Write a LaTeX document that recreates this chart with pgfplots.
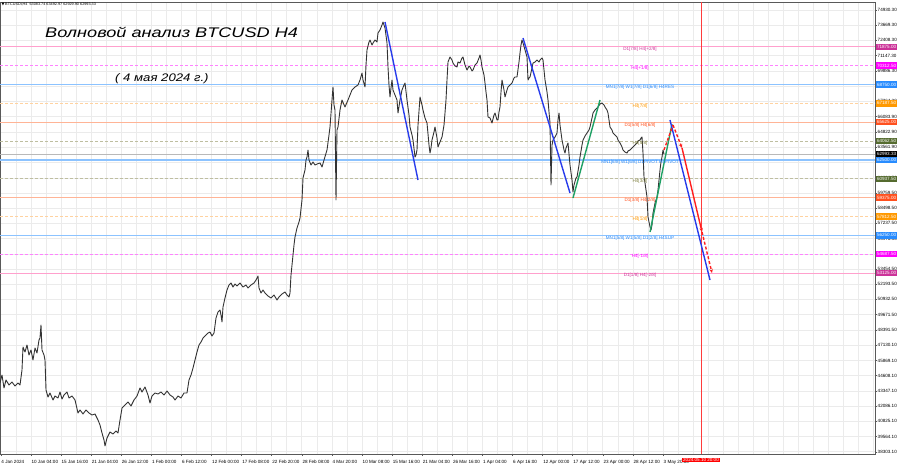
\documentclass[border=0pt]{standalone}
\usepackage{pgfplots}
\pgfplotsset{compat=1.18}
\usepackage{fontspec}
\setmainfont{Liberation Sans}
\newfontfamily\dejavu{DejaVu Sans}
\usetikzlibrary{arrows.meta}
\definecolor{pinkL}{RGB}{255,160,205}
\definecolor{pinkB}{RGB}{204,51,153}
\definecolor{magL}{RGB}{255,130,255}
\definecolor{magB}{RGB}{255,0,255}
\definecolor{blueL}{RGB}{140,195,255}
\definecolor{blueB}{RGB}{40,140,255}
\definecolor{oraL}{RGB}{255,210,160}
\definecolor{oraB}{RGB}{255,153,0}
\definecolor{salL}{RGB}{255,180,150}
\definecolor{salB}{RGB}{255,80,30}
\definecolor{oliL}{RGB}{190,190,160}
\definecolor{oliB}{RGB}{85,107,47}
\definecolor{oliT}{RGB}{128,128,64}
\definecolor{trBlue}{RGB}{40,60,235}
\definecolor{trGreen}{RGB}{30,160,100}
\definecolor{trRed}{RGB}{255,30,30}
\definecolor{vRed}{RGB}{255,60,60}
\newcommand{\tinyf}{\fontsize{4.6}{5}\selectfont}
\begin{document}
\begin{tikzpicture}
\path[use as bounding box] (0,0) rectangle (900bp,468bp);
\begin{axis}[
  at={(0bp,14bp)}, anchor=south west,
  scale only axis, width=875bp, height=452bp,
  xmin=0, xmax=875, ymin=38114, ymax=75594,
  scaled x ticks=false, scaled y ticks=false,
  axis line style={gray!70!black, line width=0.6bp},
  clip=true,
  xtick={0.7,30.8,60.9,91,121.1,151.2,181.3,211.4,241.5,271.6,301.7,331.8,361.9,392,422.1,452.2,482.3,512.4,542.5,572.6,602.7,632.8,662.9},
  xticklabels={4 Jan 2024,10 Jan 04:00,15 Jan 16:00,21 Jan 04:00,26 Jan 12:00,1 Feb 00:00,6 Feb 12:00,12 Feb 00:00,17 Feb 08:00,22 Feb 20:00,28 Feb 08:00,4 Mar 20:00,10 Mar 08:00,15 Mar 16:00,21 Mar 04:00,26 Mar 16:00,1 Apr 04:00,6 Apr 16:00,12 Apr 00:00,17 Apr 12:00,23 Apr 00:00,28 Apr 12:00,3 May 20:00},
  minor xtick={15.75,45.85,75.95,106.05,136.15,166.25,196.35,226.45,256.55,286.65,316.75,346.85,376.95,407.05,437.15,467.25,497.35,527.45,557.55,587.65,617.75,647.85,677.95,693,708.05,723.1,738.15,753.2,768.25,783.3,798.35,813.4,828.45,843.5,858.55,873.6},
  xmajorgrids, xminorgrids, ymajorgrids,
  grid style={gray!16, line width=0.5bp},
  minor grid style={gray!16, line width=0.5bp},
  xticklabel style={font=\tinyf, anchor=north west, inner sep=0pt, xshift=0.6bp, yshift=-4bp},
  ytick={38303.1,39564.1,40825.1,42086.1,43347.1,44608.1,45869.1,47130.1,48391.5,49671.5,50932.5,52193.5,53454.5,54715.5,55976.5,57237.5,58498.5,59759.5,61020.5,62300.9,63561.9,64822.9,66083.9,67364.3,68625.3,69886.3,71147.3,72408.3,73669.3,74930.3},
  yticklabels={38303.10,39564.10,40825.10,42086.10,43347.10,44608.10,45869.10,47130.10,48391.50,49671.50,50932.50,52193.50,53454.50,54715.50,55976.50,57237.50,58498.50,59759.50,61020.50,62300.90,63561.90,64822.90,66083.90,67364.30,68625.30,69886.30,71147.30,72408.30,73669.30,74930.30},
  yticklabel pos=right,
  yticklabel style={font=\tinyf, anchor=west, inner sep=0pt, xshift=0.5bp},
  tick align=outside, major tick length=2bp, minor tick length=0pt,
  tick style={gray!70!black, line width=0.4bp},
  xtick pos=bottom, ytick pos=right,
]
% levels
\addplot[pinkL, line width=0.8bp] coordinates {(0,71875) (875,71875)};
\addplot[magL, line width=0.8bp, dash pattern=on 3bp off 2bp] coordinates {(0,70312.5) (875,70312.5)};
\addplot[blueL, line width=1.5bp] coordinates {(0,68750) (875,68750)};
\addplot[oraL, line width=0.8bp, dash pattern=on 3bp off 2bp] coordinates {(0,67187.5) (875,67187.5)};
\addplot[salL, line width=0.9bp] coordinates {(0,65625) (875,65625)};
\addplot[oliL, line width=0.8bp, dash pattern=on 3bp off 2bp] coordinates {(0,64062.5) (875,64062.5)};
\addplot[gray!55, line width=0.6bp] coordinates {(0,62993.33) (875,62993.33)};
\addplot[blueL, line width=1.5bp] coordinates {(0,62500) (875,62500)};
\addplot[oliL, line width=0.8bp, dash pattern=on 3bp off 2bp] coordinates {(0,60937.5) (875,60937.5)};
\addplot[salL, line width=0.9bp] coordinates {(0,59375) (875,59375)};
\addplot[oraL, line width=0.8bp, dash pattern=on 3bp off 2bp] coordinates {(0,57812.5) (875,57812.5)};
\addplot[blueL, line width=1.5bp] coordinates {(0,56250) (875,56250)};
\addplot[magL, line width=0.8bp, dash pattern=on 3bp off 2bp] coordinates {(0,54687.5) (875,54687.5)};
\addplot[pinkL, line width=0.8bp] coordinates {(0,53125) (875,53125)};
% vertical red line (time marker)
\draw[vRed, line width=1bp] (axis cs:701,38114) -- (axis cs:701,75594);
% price
\addplot[black!80, line width=0.9bp, line join=round, mark=none] coordinates {
(0,44001)(2,44664)(4,43587)(6,44249)(9,43835)(12,44083)(15,43752)(18,44001)(20,43835)(22,45078)
(23,46986)(25,46572)(27,47152)(29,46323)(31,46737)(33,45908)(35,46903)(37,46489)(39,47567)(40,47732)
(41,48810)(42,46737)(44,46323)(45,45908)(46,43421)(48,42840)(50,43172)(53,42592)(55,42923)(58,42757)
(60,43255)(62,42674)(64,43006)(67,43255)(69,42757)(72,42923)(75,42592)(78,41514)(80,41763)(83,41431)
(86,41763)(89,41514)(92,41348)(95,41431)(98,40933)(100,40519)(102,39856)(104,39275)(105,38778)(107,39441)
(110,39938)(113,39773)(116,40021)(118,39856)(120,40933)(122,41928)(125,42177)(128,42426)(131,42094)(134,42592)
(137,42923)(140,43587)(142,43255)(145,43669)(148,43006)(150,42343)(152,42923)(155,43172)(158,43089)(161,43255)
(164,43006)(167,43338)(170,43006)(173,42840)(175,42592)(178,42923)(181,42757)(184,43172)(187,43172)(189,44249)
(191,44664)(193,45245)(195,45908)(197,46572)(199,47152)(201,47401)(203,47732)(206,47981)(208,48146)(210,48229)
(212,47898)(214,48146)(216,49391)(218,49888)(220,50054)(221,49640)(222,49059)(223,50303)(225,51049)(227,51713)
(229,52127)(231,52293)(233,51961)(235,52210)(237,52044)(240,52293)(243,51961)(246,52127)(248,51879)(251,52127)
(254,52293)(256,52542)(258,52873)(259,51879)(261,51464)(263,51713)(265,51464)(268,51215)(271,51049)(274,51298)
(277,50883)(279,51132)(282,51381)(285,51547)(287,51298)(289,51132)(290,51464)(291,52956)(292,53785)(294,55444)
(295,56107)(297,56853)(299,57351)(300,57683)(302,59176)(303,60999)(305,61663)(306,62492)(307,62741)(308,63322)
(309,62492)(311,62077)(313,62326)(315,62077)(317,62160)(320,62243)(322,61912)(324,62492)(327,63322)(329,64565)
(330,65229)(332,67468)(333,68545)(334,67053)(335,66638)(336,59176)(337,64980)(338,65229)(340,66638)(342,67468)
(345,66887)(348,67468)(350,67882)(352,68297)(355,68545)(358,68711)(360,69126)(362,69706)(363,69126)(365,68545)
(366,70370)(367,71613)(369,72277)(370,72443)(372,72028)(373,72194)(375,72443)(377,72277)(378,73023)(380,73272)
(382,73686)(383,73935)(385,73438)(387,72194)(388,70204)(389,68711)(390,67717)(391,68462)(392,69126)(393,68297)
(395,67882)(397,67468)(398,66389)(400,67468)(402,68297)(404,68711)(405,68877)(407,67468)(409,66224)(410,65229)
(412,64565)(413,64151)(415,62741)(416,62907)(417,63322)(418,65394)(420,67717)(422,67053)(423,66638)(425,65975)
(427,65560)(429,63736)(430,63072)(431,63488)(432,64151)(434,64814)(435,65229)(437,64317)(438,63571)(440,63985)
(442,64399)(444,65394)(445,66389)(446,67468)(447,69126)(448,70618)(450,71033)(452,70784)(453,70535)(455,70287)
(457,70204)(458,70618)(460,70535)(462,70950)(463,71033)(465,70370)(467,69955)(469,70287)(470,70204)(472,69872)
(473,69955)(475,70370)(477,70535)(479,70950)(480,71199)(481,70784)(482,70204)(484,69540)(485,68877)(486,68131)
(487,67468)(488,66058)(490,65975)(492,65560)(494,66224)(495,66389)(497,65809)(498,65809)(499,66472)(500,66887)
(501,68131)(502,69126)(504,68297)(505,67717)(507,68297)(508,68545)(510,68711)(512,68877)(514,69292)(515,69375)
(517,69375)(519,70618)(520,71365)(521,72028)(522,72443)(523,72194)(525,71613)(527,71033)(528,69126)(529,69292)
(530,69375)(532,70121)(533,70535)(535,70618)(537,70784)(539,70618)(540,70784)(542,70950)(543,70784)(544,69955)
(545,69126)(547,68131)(548,67468)(549,66472)(550,65560)(551,60419)(552,63736)(553,64151)(555,64399)(557,64731)
(558,65809)(559,66389)(560,65394)(562,64151)(564,63322)(565,63072)(566,63488)(568,63902)(570,62077)(572,60834)
(573,59839)(574,60419)(576,60999)(577,61082)(579,62077)(580,62741)(582,63736)(583,64151)(585,64482)(587,64731)
(589,64980)(590,65229)(592,65975)(593,66389)(595,66638)(598,66887)(600,67136)(602,67219)(604,67053)(605,66887)
(607,66638)(608,66389)(609,65809)(610,65229)(612,64980)(613,64731)(615,64565)(617,64399)(618,64151)(620,63902)
(622,63571)(623,63322)(625,63155)(627,63072)(628,63239)(630,63322)(632,63488)(633,63571)(635,63736)(637,63902)
(638,64068)(640,64151)(641,64317)(642,64399)(643,63072)(644,61082)(645,60585)(646,60005)(647,59424)(648,57766)
(649,57351)(650,56936)(651,56688)(652,57102)(653,58098)(654,58512)(655,58927)(656,59176)(657,59424)(658,60005)
(659,60834)(660,61663)(661,62326)(662,62741)(663,63322)(664,62993)
};
% trend lines
\addplot[trBlue, line width=1.4bp] coordinates {(385,73935) (418,60834)};
\addplot[trBlue, line width=1.4bp] coordinates {(523,72609) (570,59756)};
\addplot[trGreen, line width=1.4bp] coordinates {(573,59341) (600,67468)};
\addplot[trGreen, line width=1.4bp] coordinates {(650,56522) (672,65477)};
\addplot[trBlue, line width=1.4bp] coordinates {(670,65809) (710,52542)};
\addplot[trRed, line width=1.4bp, dash pattern=on 3bp off 2bp] coordinates {(664,63322) (673,65394)};
\addplot[trRed, line width=1.4bp, dash pattern=on 3bp off 2bp, -{Stealth[length=4bp,width=3.5bp]}] coordinates {(673,65394) (682,63488)};
\addplot[trRed, line width=1.4bp, -{Stealth[length=4bp,width=3.5bp]}] coordinates {(682,63488) (702,56522)};
\addplot[trRed, line width=1.4bp, dash pattern=on 3bp off 2bp, -{Stealth[length=4bp,width=3.5bp]}] coordinates {(702,56522) (712,53122)};
% level texts
\begin{scope}[every node/.style={font=\tinyf, inner sep=0pt, yshift=-2.6bp}]
\node[text=pinkB] at (axis cs:640,71875) {D1[7/8] H4[+2/8]};
\node[text=magB] at (axis cs:640,70312.5) {H4[+1/8]};
\node[text=blueB] at (axis cs:640,68750) {MN1[7/8] W1[7/8] D1[6/8] H4RES};
\node[text=oraB] at (axis cs:640,67187.5) {H4[7/8]};
\node[text=salB] at (axis cs:640,65625) {D1[5/8] H4[6/8]};
\node[text=oliT] at (axis cs:640,64062.5) {H4[5/8]};
\node[text=blueB] at (axis cs:640,62500) {MN1[6/8] W1[6/8] D1PIVOT H4PIVOT};
\node[text=oliT] at (axis cs:640,60937.5) {H4[3/8]};
\node[text=salB] at (axis cs:640,59375) {D1[3/8] H4[2/8]};
\node[text=oraB] at (axis cs:640,57812.5) {H4[1/8]};
\node[text=blueB] at (axis cs:640,56250) {MN1[5/8] W1[5/8] D1[2/8] H4SUP};
\node[text=magB] at (axis cs:640,54687.5) {H4[-1/8]};
\node[text=pinkB] at (axis cs:640,53125) {D1[1/8] H4[-2/8]};
\end{scope}
\coordinate (A1) at (axis cs:875,71875);
\coordinate (A2) at (axis cs:875,70312.5);
\coordinate (A3) at (axis cs:875,68750);
\coordinate (A4) at (axis cs:875,67187.5);
\coordinate (A5) at (axis cs:875,65625);
\coordinate (A6) at (axis cs:875,64062.5);
\coordinate (A7) at (axis cs:875,62993.33);
\coordinate (A8) at (axis cs:875,62500);
\coordinate (A9) at (axis cs:875,60937.5);
\coordinate (A10) at (axis cs:875,59375);
\coordinate (A11) at (axis cs:875,57812.5);
\coordinate (A12) at (axis cs:875,56250);
\coordinate (A13) at (axis cs:875,54687.5);
\coordinate (A14) at (axis cs:875,53125);
\coordinate (RV) at (axis cs:701,38114);
\end{axis}
% right boxes
\begin{scope}[every node/.style={font=\tinyf, text=white, anchor=west, inner xsep=1bp, inner ysep=0pt, minimum height=6.5bp, xshift=0.8bp}]
\node[fill=pinkB] at (A1) {71875.00};
\node[fill=magB] at (A2) {70312.50};
\node[fill=blueB] at (A3) {68750.00};
\node[fill=oraB] at (A4) {67187.50};
\node[fill=salB] at (A5) {65625.00};
\node[fill=oliB] at (A6) {64062.50};
\node[fill=blueB] at (A8) {62500.00};
\node[fill=black] at (A7) {62993.33};
\node[fill=oliB] at (A9) {60937.50};
\node[fill=salB] at (A10) {59375.00};
\node[fill=oraB] at (A11) {57812.50};
\node[fill=blueB] at (A12) {56250.00};
\node[fill=magB] at (A13) {54687.50};
\node[fill=pinkB] at (A14) {53125.00};
\end{scope}
\node[font=\tinyf, text=white, fill=red, anchor=north, inner xsep=1.2bp, inner ysep=0.6bp, yshift=-3.5bp] at (RV) {2024.05.10 20:00};
% header and titles
\node[anchor=west, inner sep=0pt, font=\fontsize{3.8}{4.5}\selectfont] at (1.5bp,463.5bp) {{\dejavu ▼}\,BTCUSDi,H4\ \ 63083.74 63492.97 62929.90 62993.33};
\node[anchor=base west, inner sep=0pt, font=\fontsize{14}{16}\selectfont\itshape] at (45bp,430bp) {\scalebox{1.3}[1]{Волновой анализ BTCUSD H4}};
\node[anchor=base west, inner sep=0pt, font=\fontsize{11}{13}\selectfont\itshape] at (115bp,386bp) {\scalebox{1.2}[1]{( 4 мая 2024 г.)}};
\end{tikzpicture}
\end{document}
